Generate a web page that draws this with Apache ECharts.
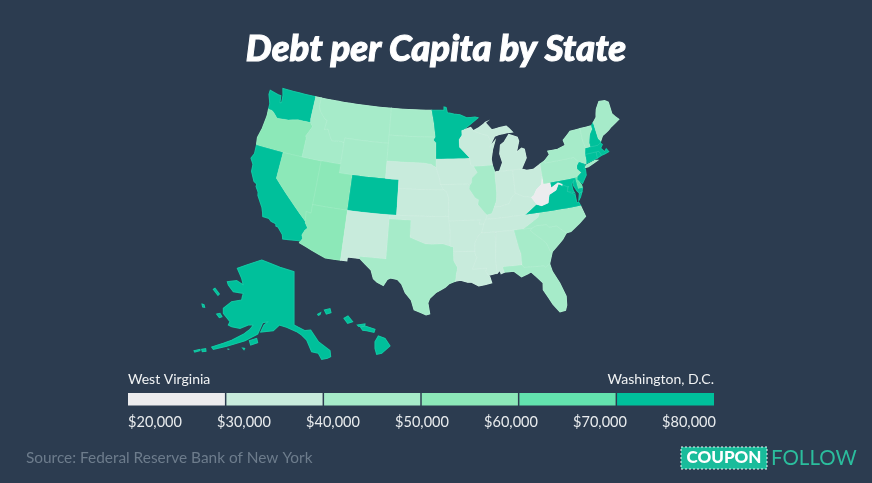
<!DOCTYPE html>
<html><head><meta charset="utf-8">
<style>html,body{margin:0;padding:0;background:#2c3c50;overflow:hidden}#c{width:872px;height:483px}</style>
<script src="https://cdn.jsdelivr.net/npm/echarts@6/dist/echarts.min.js"></script>
</head><body><div id="c"></div>
<script>
// ---------- data ----------
const stateNames = ['WA','OR','CA','NV','ID','MT','WY','UT','CO','AZ','NM','ND','SD','NE','KS','OK','TX','LA','AR','MO','IA','MN','WI','IL','IN','OH','MI','KY','TN','MS','AL','GA','FL','SC','NC','VA','WV','PA','NY','NJ','DE','MD','DC','CT','RI','MA','VT','NH','ME','AK','HI'];
const debtValues = [74000,55000,76000,55000,46000,46000,46000,55000,75000,55000,37000,46000,46000,38000,38000,35000,44000,35000,33000,37000,38000,72000,38000,45000,36000,36000,37000,33000,36000,31000,33000,46000,46000,44000,45000,73000,25000,47000,48000,74000,62000,76000,80000,75000,72000,76000,46000,72000,44000,73000,75000];
const legendTicks = [20000,30000,40000,50000,60000,70000,80000];
const binColors = ['#ececee','#c8ebdc','#a6ebc9','#8ce8b8','#63e3ae','#00c09b'];
const legendLow = 'West Virginia', legendHigh = 'Washington, D.C.';
const titleText = 'Debt per Capita by State';
const sourceText = 'Source: Federal Reserve Bank of New York';

// outlines in lon,lat
const stateShapes = {
WA:["-124.7,48.38 -123.2,48.15 -122.75,48.15 -122.55,47.3 -122.3,47.4 -122.4,48.2 -122.75,49 -117.03,49 -117.04,46.42 -116.92,46 -118.98,46 -119.3,45.93 -120.5,45.7 -121.2,45.65 -122.3,45.55 -122.8,45.9 -123.2,46.15 -123.5,46.25 -124.05,46.27 -124.1,46.9 -124.7,47.9"],
OR:["-124.05,46.27 -123.5,46.25 -123.2,46.15 -122.8,45.9 -122.3,45.55 -121.2,45.65 -120.5,45.7 -119.3,45.93 -118.98,46 -116.92,46 -116.46,45.6 -116.85,44.95 -117.2,44.4 -117.03,44.2 -117.03,42 -124.2,42 -124.4,42.85 -124.1,44 -123.95,45.5"],
CA:["-124.2,42 -120,42 -120,39 -114.63,35 -114.57,34.8 -114.14,34.3 -114.45,34 -114.72,33.4 -114.52,33.03 -114.72,32.72 -117.12,32.53 -117.3,33 -118.1,33.72 -118.4,33.75 -118.5,34.03 -119.2,34.15 -119.6,34.42 -120.47,34.45 -120.65,34.9 -120.9,35.4 -121.9,36.6 -122,36.96 -122.5,37.5 -122.5,37.8 -123,38 -123.75,39 -123.85,39.8 -124.4,40.4 -124.1,41"],
NV:["-120,42 -114.04,42 -114.04,36.2 -114.05,36 -114.74,36.1 -114.63,35 -120,39"],
ID:["-117.03,49 -116.05,49 -116.05,48 -115.7,47.45 -114.7,46.7 -114.35,46.65 -114.5,45.55 -113.95,45.7 -113.45,45.05 -113.45,44.95 -113,44.45 -112,44.55 -111.5,44.55 -111.05,44.48 -111.05,42 -117.03,42 -117.03,44.2 -117.2,44.4 -116.85,44.95 -116.46,45.6 -116.92,46 -117.04,46.42"],
MT:["-116.05,49 -104.05,49 -104.05,45 -111.05,45 -111.05,44.48 -111.5,44.55 -112,44.55 -113,44.45 -113.45,44.95 -113.45,45.05 -113.95,45.7 -114.5,45.55 -114.35,46.65 -114.7,46.7 -115.7,47.45 -116.05,48"],
WY:["-111.05,45 -104.05,45 -104.05,41 -111.05,41"],
UT:["-114.04,42 -111.05,42 -111.05,41 -109.05,41 -109.05,37 -114.05,37"],
CO:["-109.05,41 -102.05,41 -102.05,37 -109.05,37"],
AZ:["-114.05,37 -109.05,37 -109.05,31.33 -111.07,31.33 -114.81,32.5 -114.72,32.72 -114.52,33.03 -114.72,33.4 -114.45,34 -114.14,34.3 -114.57,34.8 -114.63,35 -114.74,36.1 -114.05,36 -114.04,36.2"],
NM:["-109.05,37 -103,37 -103.04,32 -106.62,32 -106.53,31.78 -108.2,31.78 -108.2,31.33 -109.05,31.33"],
ND:["-104.05,49 -97.23,49 -96.85,47.6 -96.56,45.94 -104.05,45.94"],
SD:["-104.05,45.94 -96.56,45.94 -96.85,45.6 -96.45,45.3 -96.45,43.5 -96.45,42.49 -97.2,42.85 -98.5,43 -104.05,43"],
NE:["-104.05,43 -98.5,43 -97.2,42.85 -96.45,42.49 -96.1,41.7 -95.9,41.2 -95.77,40.58 -95.31,40 -102.05,40 -102.05,41 -104.05,41"],
KS:["-102.05,40 -95.31,40 -94.9,39.8 -94.6,39.1 -94.62,37 -102.05,37"],
OK:["-103,37 -94.62,37 -94.43,35.4 -94.48,33.64 -95.5,33.9 -97,33.85 -97.9,33.9 -99.2,34.3 -100,34.56 -100,36.5 -103,36.5"],
TX:["-103,36.5 -100,36.5 -100,34.56 -99.2,34.3 -97.9,33.9 -97,33.85 -95.5,33.9 -94.48,33.64 -94.04,33.55 -94.04,33.02 -94.04,32 -93.55,31.2 -93.75,30.4 -93.85,29.7 -94.7,29.4 -95.2,29 -96.4,28.4 -97.2,27.7 -97.4,27.2 -97.15,25.96 -97.6,25.85 -99.1,26.4 -99.5,27.5 -100.3,28.3 -100.8,29.25 -101.4,29.77 -102.3,29.88 -102.7,29.7 -103.15,28.98 -104,29.3 -104.5,29.65 -104.9,30.6 -106.53,31.78 -106.62,32 -103.04,32"],
LA:["-94.04,33.02 -91.17,33 -91.1,32.5 -90.9,32.3 -91.6,31 -89.73,31 -89.85,30.65 -89.55,30.18 -89.4,30 -89.2,29.3 -90.1,29.15 -90.9,29.05 -91.8,29.5 -92.3,29.53 -93.2,29.77 -93.85,29.7 -93.75,30.4 -93.55,31.2 -94.04,32"],
AR:["-94.62,36.5 -90.15,36.5 -90.37,36 -89.7,36 -90.1,35 -90.6,34.7 -91.1,33.9 -91.17,33 -94.04,33.02 -94.04,33.55 -94.48,33.64 -94.43,35.4"],
MO:["-95.77,40.58 -91.73,40.61 -91.42,40.38 -91.5,40 -90.7,39 -90.2,38.75 -90.35,38.2 -89.5,37.3 -89.13,36.98 -89.4,36.5 -89.7,36 -90.37,36 -90.15,36.5 -94.62,36.5 -94.62,37 -94.6,39.1 -94.9,39.8 -95.31,40"],
IA:["-96.45,43.5 -91.22,43.5 -91.1,42.7 -90.64,42.5 -90.15,41.8 -91.05,41.2 -91.1,40.7 -91.42,40.38 -91.73,40.61 -95.77,40.58 -95.9,41.2 -96.1,41.7 -96.45,42.49"],
MN:["-97.23,49 -95.15,49 -95.15,49.38 -94.8,49.33 -94.6,48.72 -93.5,48.55 -92.5,48.45 -91.4,48.07 -90,48.1 -89.5,48 -92.02,46.7 -92.3,46.65 -92.3,46.1 -92.8,45.6 -92.75,44.75 -91.22,43.5 -96.45,43.5 -96.45,45.3 -96.85,45.6 -96.56,45.94 -96.85,47.6"],
WI:["-92.02,46.7 -90.8,46.95 -90.4,46.55 -89.1,46.13 -88.1,45.9 -87.8,45.35 -87.6,45.1 -88,44.55 -87.05,45.25 -87.55,44.3 -87.9,43.2 -87.8,42.5 -90.64,42.5 -91.1,42.7 -91.22,43.5 -92.75,44.75 -92.8,45.6 -92.3,46.1 -92.3,46.65"],
IL:["-90.64,42.5 -87.8,42.5 -87.53,41.7 -87.53,39.35 -87.65,38.5 -88.05,37.8 -88.45,37.1 -89.13,36.98 -89.5,37.3 -90.35,38.2 -90.2,38.75 -90.7,39 -91.5,40 -91.42,40.38 -91.1,40.7 -91.05,41.2 -90.15,41.8"],
IN:["-87.53,41.7 -87.2,41.75 -86.8,41.76 -84.8,41.76 -84.82,39.1 -85.4,38.7 -85.9,38 -86.5,37.95 -87.1,37.8 -88.05,37.8 -87.65,38.5 -87.53,39.35"],
OH:["-84.8,41.76 -83.45,41.73 -82.7,41.5 -81.7,41.5 -80.52,41.98 -80.52,40.64 -80.85,39.7 -81.7,39.2 -82.2,38.6 -82.6,38.42 -83.7,38.63 -84.82,39.1"],
MI:["-86.8,41.76 -84.8,41.76 -83.45,41.73 -83.15,42.1 -82.5,42.9 -82.42,43 -82.6,43.9 -83,44.07 -83.9,43.65 -83.3,44.9 -83.45,45.35 -84.75,45.78 -85.6,45 -86.25,44.7 -86.5,43.7 -86.2,42.7",
"-90.4,46.55 -89.1,46.13 -88.1,45.9 -87.8,45.35 -87.6,45.1 -87.05,45.75 -86.3,45.9 -85,46 -84.1,46 -84.6,46.45 -85,46.75 -86.1,46.67 -87.4,46.5 -88.4,47.4 -88.2,47.45 -89.5,46.85"],
KY:["-89.4,36.5 -89.13,36.98 -88.45,37.1 -88.05,37.8 -87.1,37.8 -86.5,37.95 -85.9,38 -85.4,38.7 -84.82,39.1 -83.7,38.63 -82.6,38.42 -81.97,37.54 -83.68,36.6 -88.07,36.5"],
TN:["-90.1,35 -89.7,36 -89.4,36.5 -88.07,36.5 -83.68,36.6 -81.68,36.59 -82,36.1 -84.3,35 -88.2,35"],
MS:["-90.1,35 -88.2,35 -88.1,34.9 -88.47,31.9 -88.4,30.35 -89.55,30.18 -89.85,30.65 -89.73,31 -91.6,31 -90.9,32.3 -91.1,32.5 -91.17,33 -91.1,33.9 -90.6,34.7"],
AL:["-88.2,35 -85.6,35 -85.18,32.87 -85,32.3 -85.05,31 -87.6,31 -87.45,30.4 -87.9,30.25 -88,30.65 -88.4,30.35 -88.47,31.9 -88.1,34.9"],
GA:["-85.6,35 -83.1,35 -83.35,34.7 -81.9,33.5 -81.4,33 -81.1,32.1 -80.85,32.03 -81.45,30.72 -82.05,30.36 -82.2,30.57 -84.86,30.7 -85.05,31 -85,32.3 -85.18,32.87"],
FL:["-87.6,31 -85.05,31 -84.86,30.7 -82.2,30.57 -82.05,30.36 -81.45,30.72 -81.25,29.8 -80.55,28.4 -80.03,26.8 -80.15,25.75 -80.4,25.2 -81.1,25.13 -81.8,26.1 -82.2,26.9 -82.75,27.9 -82.65,28.7 -83.4,29.5 -84,30.1 -84.35,29.95 -85.3,29.68 -86.2,30.4 -87.45,30.4"],
SC:["-83.35,34.7 -83.1,35 -82.4,35.2 -81.05,35.15 -80.8,34.82 -79.7,34.8 -78.55,33.85 -79.2,33.2 -80.85,32.03 -81.1,32.1 -81.4,33 -81.9,33.5"],
NC:["-84.3,35 -82,36.1 -81.68,36.59 -75.87,36.55 -75.5,35.25 -76.5,34.65 -77.9,33.9 -78.55,33.85 -79.7,34.8 -80.8,34.82 -81.05,35.15 -82.4,35.2 -83.1,35"],
VA:["-83.68,36.6 -81.97,37.54 -81.3,37.3 -80.3,37.5 -79.95,38.4 -78.87,38.76 -78.35,39.4 -77.83,39.13 -77.5,39.1 -77.12,38.93 -77.03,38.85 -77.3,38.4 -76.3,37.9 -76.3,37 -76,36.92 -75.87,36.55 -81.68,36.59","-75.95,37.15 -75.65,37.95 -75.25,38.03 -75.6,37.5"],
WV:["-82.6,38.42 -82.2,38.6 -81.7,39.2 -80.85,39.7 -80.52,40.64 -80.52,39.72 -79.48,39.72 -79.48,39.2 -78.4,39.62 -77.75,39.33 -77.83,39.13 -78.35,39.4 -78.87,38.76 -79.95,38.4 -80.3,37.5 -81.3,37.3 -81.97,37.54"],
PA:["-80.52,41.98 -79.76,42.27 -79.76,42 -75.35,42 -74.7,41.36 -75.13,40.98 -75.2,40.68 -74.72,40.15 -75.42,39.8 -75.79,39.72 -80.52,39.72 -80.52,40.64"],
NY:["-79.76,42 -79.76,42.27 -78.9,42.85 -79.05,43.27 -77.5,43.27 -76.2,43.55 -76.35,44.15 -75,44.97 -73.35,45.01 -73.4,43.6 -73.25,42.75 -73.5,42.05 -73.55,41.3 -73.66,41 -73.92,41 -74.7,41.36 -75.35,42","-74.03,40.6 -73.75,40.85 -72.3,41.15 -71.9,41.07 -73.5,40.6"],
NJ:["-74.7,41.36 -73.92,41 -74.03,40.7 -74.25,40.5 -74,40.45 -74.1,39.75 -74.9,38.93 -75.55,39.5 -75.42,39.8 -74.72,40.15 -75.2,40.68 -75.13,40.98"],
DE:["-75.79,39.72 -75.42,39.8 -75.55,39.5 -75.1,38.8 -75.05,38.45 -75.7,38.46"],
MD:["-79.48,39.72 -75.79,39.72 -75.7,38.46 -75.05,38.45 -75.25,38.03 -75.65,37.95 -75.9,38.2 -76.3,39 -76,39.5 -76.5,39.1 -76.45,38.4 -76.3,38.05 -76.9,38.3 -77.3,38.4 -77.03,38.85 -77.12,38.93 -77.5,39.1 -77.83,39.13 -77.75,39.33 -78.4,39.62 -79.48,39.2"],
DC:["-77.12,38.93 -77.03,39 -76.91,38.89 -77.03,38.8"],
CT:["-73.5,42.05 -71.8,42.02 -71.85,41.32 -73.66,41 -73.55,41.3"],
RI:["-71.8,42.02 -71.38,42.02 -71.15,41.5 -71.85,41.32"],
MA:["-73.25,42.75 -71.3,42.7 -70.85,42.87 -70.6,42.65 -71,42.3 -70.55,41.8 -70.2,42.07 -69.95,41.68 -70.65,41.55 -71.15,41.5 -71.38,42.02 -71.8,42.02 -73.5,42.05"],
VT:["-73.35,45.01 -71.5,45.01 -71.5,44.6 -72.05,44.1 -72.45,43.2 -72.46,42.73 -73.25,42.75 -73.4,43.6"],
NH:["-71.5,45.01 -71.08,45.3 -70.98,43.4 -70.7,43.07 -70.85,42.87 -71.3,42.7 -72.46,42.73 -72.45,43.2 -72.05,44.1 -71.5,44.6"],
ME:["-71.08,45.3 -70.4,45.8 -70.25,46.2 -70,46.7 -69.25,47.45 -68.3,47.35 -67.8,47.07 -67.8,45.7 -67.45,45.3 -67,44.85 -68.5,44.3 -69.1,44 -70.2,43.6 -70.7,43.07 -70.98,43.4"]
};
// the inset states are drawn in their own plane (units offset by 1000 so the projection can tell them apart)
const insetShapes = {
AK:["215,150 240,160 270,172 312,185 312,345 325,352 345,362 362,360 385,395 420,422 422,440 412,445 395,448 385,430 365,425 350,390 335,375 320,365 290,352 268,345 250,362 212,366 222,345 235,335 218,338 203,372 165,392 140,400 110,409 70,418 65,411 100,400 125,391 160,373 180,358 190,345 175,345 150,355 125,350 115,345 120,335 100,310 100,295 125,275 155,270 157,260 160,250 130,245 115,225 112,215 140,212 160,225 155,205 142,175 170,165",
"70,238 75,235 88,252 84,256","80,312 90,310 96,320 88,323","36,282 42,284 44,292 38,291","178,392 200,385 203,398 182,405","12,422 30,418 30,422 14,426","35,418 47,416 48,424 37,425","112,417 118,418 116,421","158,414 164,415 162,419"],
HI:["383,313 392,308 390,314 385,316","403,300 420,296 423,308 409,312","462,325 474,318 488,335 473,340","502,345 525,342 524,348 506,349","512,352 525,348 555,358 552,367 530,362 518,361","555,395 565,378 585,385 600,408 575,430 560,433 555,415"]
};

// ---------- projection ----------
const rad = Math.PI/180, n = (Math.sin(29.5*rad)+Math.sin(45.5*rad))/2;
const C = Math.cos(29.5*rad)**2 + 2*n*Math.sin(29.5*rad);
const rho0 = Math.sqrt(C-2*n*Math.sin(37.5*rad))/n;
const Ky = 505, Kx = 510, X0 = 439, Y0 = 212;
function project(p){
  if (p[0] >= 1000) return [190+(p[0]-1000)/3, 210+(p[1]-1000)/3];
  const rho = Math.sqrt(C-2*n*Math.sin(p[1]*rad))/n, th = n*(p[0]+96)*rad;
  return [X0+Kx*rho*Math.sin(th), Y0-Ky*(rho0-rho*Math.cos(th))];
}
function unproject(q){
  const x=(q[0]-X0)/Kx, y=rho0+(q[1]-Y0)/Ky, rho=Math.hypot(x,y), th=Math.atan2(x,y);
  return [th/n/rad-96, Math.asin((C-(rho*n)**2)/(2*n))/rad];
}
function parseRing(s, off){
  const pts = s.split(' ').map(t=>t.split(',').map(Number));
  const out = [];
  pts.forEach((a,i)=>{
    const b = pts[(i+1)%pts.length], steps = off ? 1 : Math.max(1,Math.ceil(Math.abs(b[0]-a[0])));
    for(let k=0;k<steps;k++) out.push([a[0]+(b[0]-a[0])*k/steps+off, a[1]+(b[1]-a[1])*k/steps+off]);
  });
  out.push(out[0].slice());
  return out;
}
const features = [];
let x0=1e9,y0=1e9,x1=-1e9,y1=-1e9;
function addFeature(name, rings, off){
  const coords = rings.map(r=>[parseRing(r,off)]);
  coords.forEach(c=>c[0].forEach(p=>{const q=project(p);x0=Math.min(x0,q[0]);y0=Math.min(y0,q[1]);x1=Math.max(x1,q[0]);y1=Math.max(y1,q[1]);}));
  features.push({type:'Feature',properties:{name},geometry:{type:'MultiPolygon',coordinates:coords}});
}
Object.keys(stateShapes).forEach(k=>addFeature(k,stateShapes[k],0));
Object.keys(insetShapes).forEach(k=>addFeature(k,insetShapes[k],1000));
echarts.registerMap('usa',{type:'FeatureCollection',features});

const bg = '#2c3c50', legendX = 128, legendW = 586;
const chart = echarts.init(document.getElementById('c'),null,{renderer:'canvas'});
const pieces = binColors.map((c,i)=>({min:legendTicks[i],max:legendTicks[i+1],color:c}));
const binOf = v => binColors[Math.min(binColors.length-1,Math.floor((v-legendTicks[0])/10000))];
const uiFont = 'Lato';
const mapBox = {left:x0,top:y0,width:x1-x0,height:y1-y0};
chart.setOption({
  backgroundColor:bg,
  animation:false,
  title:[
    {text:titleText,left:'center',top:31,textStyle:{color:'#fff',fontFamily:'Lato',fontWeight:900,fontStyle:'italic',fontSize:36.5,textBorderColor:'#fff',textBorderWidth:1}},
    {text:legendLow,left:128,top:372,textStyle:{color:'#f1f3f4',fontFamily:uiFont,fontWeight:400,fontSize:14}},
    {text:legendHigh,right:158,top:372,textStyle:{color:'#f1f3f4',fontFamily:uiFont,fontWeight:400,fontSize:14}},
    {text:sourceText,left:26,top:451,textStyle:{color:'#6d7c8c',fontFamily:uiFont,fontWeight:400,fontSize:15.4}}
  ].map(t=>Object.assign({padding:0},t)),
  visualMap:{type:'piecewise',show:false,seriesIndex:0,pieces},
  // underlay: each state also grown by its own colour, which closes hairline seams between neighbours
  geo:Object.assign({map:'usa',projection:{project,unproject},roam:false,silent:true,z:0,label:{show:false},
    itemStyle:{areaColor:binColors[0]},
    regions:stateNames.map((name,i)=>({name,itemStyle:{areaColor:binOf(debtValues[i]),borderColor:binOf(debtValues[i]),borderWidth:1.1}}))},mapBox),
  grid:[
    {left:legendX,width:legendW,top:393,height:12.5},
    {left:155,width:534,top:393,height:12.5}
  ],
  xAxis:[
    {gridIndex:0,type:'value',min:legendTicks[0],max:legendTicks[6],interval:10000,show:false},
    {gridIndex:1,type:'value',min:legendTicks[0],max:legendTicks[6],interval:10000,splitLine:{show:false},axisLine:{show:false},axisTick:{show:false},
     axisLabel:{margin:9.5,color:'#e9ecee',fontFamily:uiFont,fontSize:14.5,hideOverlap:false,showMinLabel:true,showMaxLabel:true,
       formatter:v=>'$'+v.toLocaleString('en-US')}}
  ],
  yAxis:[
    {gridIndex:0,type:'category',data:['debt'],show:false},
    {gridIndex:1,type:'category',data:['debt'],show:false}
  ],
  series:[
    Object.assign({type:'map',map:'usa',projection:{project,unproject},roam:false,silent:true,z:2,
     label:{show:false},emphasis:{disabled:true},select:{disabled:true},
     itemStyle:{borderColor:'rgba(255,255,255,0.16)',borderWidth:0.5,areaColor:binColors[0]},
     data:stateNames.map((name,i)=>({name,value:debtValues[i]}))},mapBox),
    // stacked from zero, so the first segment runs up to its upper tick and the axis minimum cuts it at the lower one
    ...binColors.map((c,i)=>({type:'bar',xAxisIndex:0,yAxisIndex:0,stack:'scale',silent:true,barWidth:12.5,
      itemStyle:{color:c},data:[i===0?legendTicks[1]:legendTicks[i+1]-legendTicks[i]]}))
  ],
  graphic:[
    ...[1,2,3,4,5].map(i=>({type:'rect',z:50,shape:{x:legendX+legendW*i/6-0.75,y:392.5,width:1.5,height:13.5},style:{fill:bg}})),
    {type:'rect',shape:{x:681,y:447,width:86,height:22},style:{fill:'#19bc9b',stroke:'#e8f7f3',lineWidth:1,lineDash:[2,2]}},
    {type:'text',style:{x:724,y:458,text:'COUPON',fill:'#fff',font:'900 17px Lato',align:'center',verticalAlign:'middle'}},
    {type:'text',style:{x:771,y:458,text:'FOLLOW',fill:'#2bbd9d',font:'400 20.5px Lato',align:'left',verticalAlign:'middle'}}
  ]
});
</script></body></html>
